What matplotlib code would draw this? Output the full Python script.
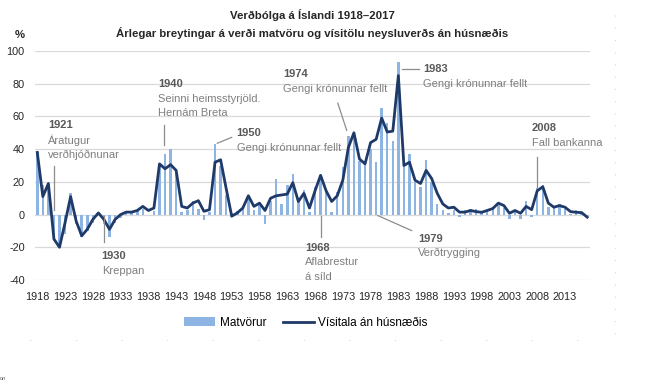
import matplotlib
matplotlib.use('Agg')
import matplotlib.pyplot as plt
from matplotlib.patches import Patch
from matplotlib.lines import Line2D

plt.rcParams['font.family'] = ['Liberation Sans', 'DejaVu Sans']
plt.rcParams['axes.unicode_minus'] = False

years = list(range(1918, 2018))

# Matvörur - annual change in food prices (%)
matvorur = [38, 18, 17, -12, -19, -12, 13, -6, -14, -10,
            -5, 1, -6, -14, -5, -2, 1, 1, 2, 3.5,
            -0.5, 2, 31, 37, 40, 27, 1.5, 2.5, 8, 3.5,
            -3.5, 1.5, 43, 30, 12, 1, 2, 4.5, 10.5, 2.5,
            6.5, -5.5, 8.5, 22, 6.5, 18, 25, 9, 15, 1.5,
            17, 24, 15, 1.5, 14, 29, 48, 50, 33, 31,
            40, 32, 65, 56, 45, 93, 30, 37, 20, 17,
            33.5, 20, 6.5, 3, 1, 2.5, -1.6, 2.5, 3.5, 3.5,
            1.4, 3, 4.5, 6.5, 4, -2.7, 2.5, -2.7, 8.2, -1.6,
            16.4, 17.8, 4.5, 5.5, 6.5, 3.5, 0.4, 3, 1, -1.2]

# Vísitala án húsnæðis - CPI excluding housing (%)
visitala = [38, 11, 19, -15, -20, -5, 11, -4, -13, -9,
            -3, 1, -3, -9, -3, 0, 1.5, 1.5, 2.5, 5,
            2.5, 4, 31, 28, 30.5, 27, 5, 4, 7, 8.5,
            2, 3, 32, 33.5, 16, -1, 1, 4, 11.5, 5,
            7, 2.5, 10, 11.5, 12, 12.5, 19.5, 8, 13, 4,
            14.5, 24, 14.5, 8, 11.5, 21, 41, 50, 34, 31,
            44, 46, 59, 50.5, 51, 85, 30, 32, 21, 19,
            27, 22, 13, 6.5, 4, 4.5, 1.5, 1.5, 2.5, 1.8,
            1.4, 2.5, 3.7, 7, 5.5, 0.8, 2.5, 0.8, 5, 3,
            14.5, 17, 7, 4.5, 5.5, 4.5, 1.8, 1.4, 1.2, -1.6]

tick_years = list(range(1918, 2014, 5))
y_ticks = [100, 80, 60, 40, 20, 0, -20, -40]

bar_color = '#8DB4E2'
line_color = '#1F3A68'
grey_dark = '#595959'
grey_text = '#7F7F7F'
lead_color = '#8C8C8C'

fig = plt.figure(figsize=(6.58, 3.83), dpi=100)
ax = fig.add_axes([34.5 / 658, 103 / 383, 555.5 / 658, 229 / 383])

ax.bar(years, matvorur, width=0.45, color=bar_color, zorder=2)
ax.plot(years, visitala, color=line_color, lw=2.0, zorder=3)

ax.set_xlim(1917.5, 2017.5)
ax.set_ylim(-40, 100)
ax.set_yticks(y_ticks)
ax.set_xticks(tick_years)
ax.set_xticklabels([str(y) for y in tick_years])
ax.tick_params(axis='both', length=0, labelsize=7.8, colors='#262626')
ax.tick_params(axis='y', pad=7)
ax.tick_params(axis='x', pad=9)
ax.grid(axis='y', color='#D9D9D9', lw=0.9, zorder=0)
ax.set_axisbelow(True)
for s in ax.spines.values():
    s.set_visible(False)


# annotations: year label (bold), description lines and a leader line
def note(x, y, year, lines, lead):
    ax.text(x, y, year, fontsize=8, fontweight='bold', color=grey_dark,
            va='center', ha='left', zorder=4)
    for i, t in enumerate(lines):
        ax.text(x, y - (i + 1) * 9.0, t, fontsize=8, color=grey_text,
                va='center', ha='left', zorder=4)
    (x0, y0), (x1, y1) = lead
    ax.plot([x0, x1], [y0, y1], color=lead_color, lw=0.9, zorder=4)


note(1919.9, 54.6, '1921', ['Áratugur', 'verðhjóðnunar'], ((1921, 30), (1921, 3)))
note(1929.6, -25.2, '1930', ['Kreppan'], ((1930, -1), (1930, -17)))
note(1939.7, 79.8, '1940', ['Seinni heimsstyrjöld.', 'Hernám Breta'],
     ((1940.8, 54.5), (1940.8, 42.3)))
note(1953.9, 49.7, '1950', ['Gengi krónunnar fellt'], ((1950.4, 43.6), (1953.0, 47.2)))
note(1962.2, 85.9, '1974', ['Gengi krónunnar fellt'], ((1972.1, 68.1), (1973.7, 51.5)))
note(1987.4, 89.0, '1983', ['Gengi krónunnar fellt'], ((1983.6, 89.0), (1986.7, 89.0)))
note(2007.0, 52.8, '2008', ['Fall bankanna'], ((2007.9, 35), (2007.9, 16)))
note(1966.2, -20.2, '1968', ['Aflabrestur', 'á síld'], ((1969.0, -0.6), (1969.0, -14)))
note(1986.5, -14.7, '1979', ['Verðtrygging'], ((1979.3, -0.6), (1985.4, -9.8)))

# titles
fig.text(312 / 658, 1 - 15 / 383, 'Verðbólga á Íslandi 1918–2017', fontsize=8.2,
         fontweight='bold', color='#262626', ha='center', va='center')
fig.text(312 / 658, 1 - 33 / 383,
         'Árlegar breytingar á verði matvöru og vísitölu neysluverðs án húsnæðis',
         fontsize=8.2, fontweight='bold', color='#262626', ha='center', va='center')
fig.text(20 / 658, 1 - 35 / 383, '%', fontsize=8.2, fontweight='bold',
         color='#262626', ha='center', va='center')

handles = [Patch(facecolor=bar_color, edgecolor='none'),
           Line2D([0], [0], color=line_color, lw=2.0)]
fig.legend(handles, ['Matvörur', 'Vísitala án húsnæðis'], loc='center',
           bbox_to_anchor=(306 / 658, 1 - 323 / 383), ncol=2, frameon=False,
           fontsize=8.5, handlelength=2.6, handleheight=0.8, columnspacing=1.4,
           handletextpad=0.4)

# faint chart-area border of the original
fig.add_artist(Line2D([615 / 658, 615 / 658], [1 - 15 / 383, 1 - 340 / 383],
                      color='#D9D9D9', lw=0.8, ls=(0, (1, 10))))
fig.add_artist(Line2D([30 / 658, 615 / 658], [1 - 340 / 383, 1 - 340 / 383],
                      color='#D9D9D9', lw=0.8, ls=(0, (1, 40))))
fig.text(0, 1 - 378 / 383, 'on', fontsize=4, color='#595959', ha='left', va='center')

fig.savefig('out.png', dpi=100)
